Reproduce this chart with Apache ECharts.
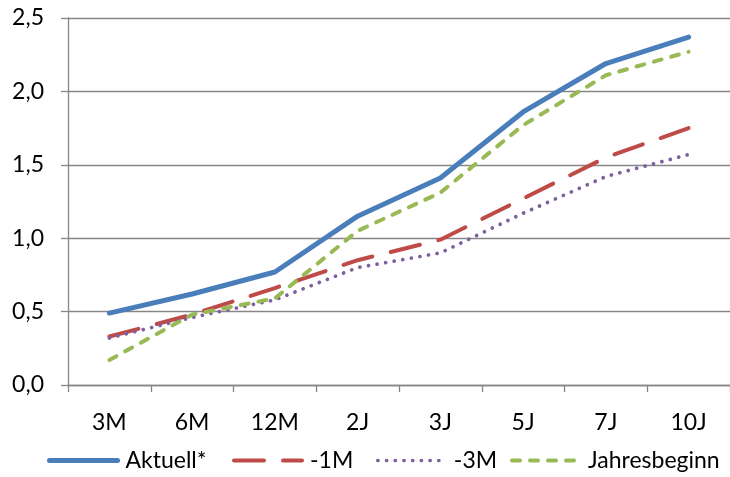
<!DOCTYPE html>
<html><head><meta charset="utf-8">
<script src="https://cdn.jsdelivr.net/npm/echarts@6/dist/echarts.min.js"></script>
<style>html,body{margin:0;padding:0;background:#fff}#c{width:730px;height:477px}</style>
</head><body><div id="c"></div>
<script>
const categories = ['3M','6M','12M','2J','3J','5J','7J','10J'];
const aktuell = [0.49, 0.62, 0.77, 1.15, 1.41, 1.86, 2.19, 2.37];
const minus1M = [0.33, 0.48, 0.66, 0.85, 0.99, 1.27, 1.55, 1.75];
const minus3M = [0.32, 0.46, 0.58, 0.80, 0.90, 1.17, 1.42, 1.57];
const jahresbeginn = [0.17, 0.48, 0.59, 1.05, 1.31, 1.77, 2.11, 2.27];
const yTicks = [0, 0.5, 1.0, 1.5, 2.0, 2.5];
const seriesNames = ['Aktuell*', '-1M', '-3M', 'Jahresbeginn'];

const FONT = 'Lato, "Open Sans", sans-serif';
const FS = 23;
const legendLeft = [42, 227, 371, 505];
const legendWidths = [5, 4, 3.7, 4];

const legends = seriesNames.map((n, i) => ({
  left: legendLeft[i], bottom: 0, itemWidth: 68, itemHeight: 10, itemGap: 0,
  textStyle: { fontFamily: FONT, fontSize: FS, color: '#000', padding: [0, 0, 0, 3] },
  itemStyle: { opacity: 0 },
  data: [{ name: n, lineStyle: { width: legendWidths[i] } }]
}));

const chart = echarts.init(document.getElementById('c'));
chart.setOption({
  animation: false,
  grid: { left: 68, right: -8, top: 18, bottom: 92, containLabel: false },
  legend: legends,
  xAxis: {
    type: 'category', data: categories, boundaryGap: true,
    axisLine: { lineStyle: { color: '#868686', width: 1.3 } },
    axisTick: { show: true, length: 7, interval: 0, lineStyle: { color: '#868686', width: 1.3 } },
    axisLabel: { fontFamily: FONT, fontSize: FS, color: '#000', margin: 26, interval: 0 }
  },
  yAxis: {
    type: 'value', min: yTicks[0], max: yTicks[yTicks.length-1], interval: 0.5,
    axisLine: { show: true, lineStyle: { color: '#868686', width: 1.3 } },
    axisTick: { show: true, length: 7, lineStyle: { color: '#868686', width: 1.3 } },
    splitLine: { lineStyle: { color: '#868686', width: 1.3 } },
    axisLabel: { fontFamily: FONT, fontSize: FS, color: '#000', margin: 24,
      formatter: v => v.toFixed(1).replace('.', ',') }
  },
  series: [
    { name: seriesNames[0], type: 'line', data: aktuell, symbol: 'none', color: '#4A7EBB',
      lineStyle: { width: 5, color: '#4A7EBB', cap: 'round', join: 'round' } },
    { name: seriesNames[1], type: 'line', data: minus1M, symbol: 'none', color: '#BE4B48',
      lineStyle: { width: 4, color: '#BE4B48', type: [30, 19], cap: 'round' } },
    { name: seriesNames[2], type: 'line', data: minus3M, symbol: 'none', color: '#7D60A0',
      lineStyle: { width: 3.7, color: '#7D60A0', type: [0.1, 8.6], cap: 'round' } },
    { name: seriesNames[3], type: 'line', data: jahresbeginn, symbol: 'none', color: '#98B954',
      lineStyle: { width: 4, color: '#98B954', type: [8, 10], cap: 'round' } }
  ]
});
</script></body></html>
